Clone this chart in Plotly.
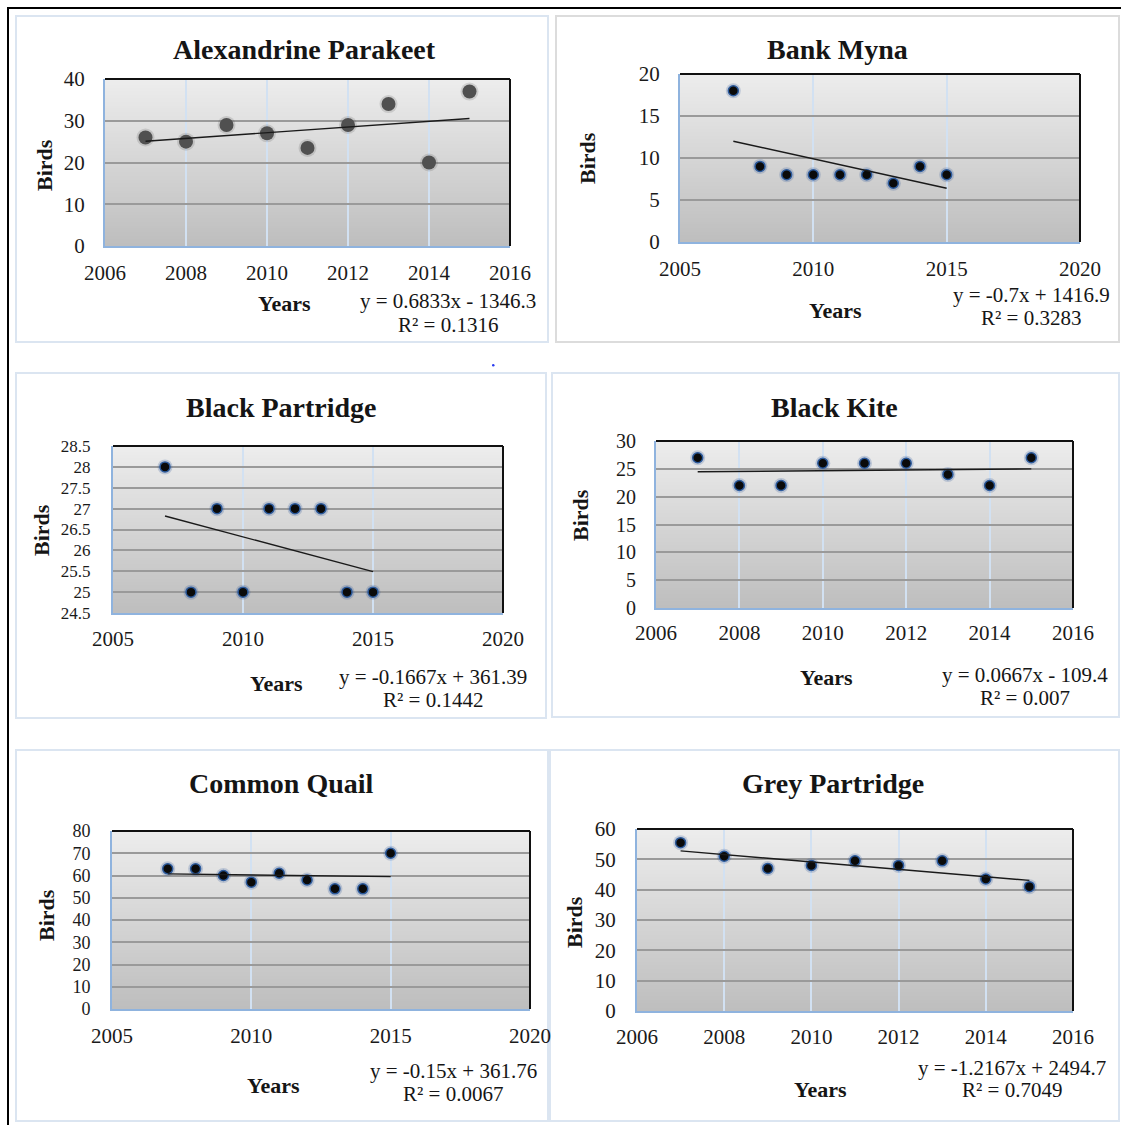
import base64, zlib, struct
import plotly.graph_objects as go

# ---------------- data ----------------
years = [2007, 2008, 2009, 2010, 2011, 2012, 2013, 2014, 2015]
species = ["Alexandrine Parakeet", "Bank Myna", "Black Partridge",
           "Black Kite", "Common Quail", "Grey Partridge"]
alexandrine_parakeet = [26, 25, 29, 27, 23.5, 29, 34, 20, 37]
bank_myna = [18, 9, 8, 8, 8, 8, 7, 9, 8]
black_partridge = [28, 25, 27, 25, 27, 27, 27, 25, 25]
black_kite = [27, 22, 22, 26, 26, 26, 24, 22, 27]
common_quail = [63, 63, 60, 57, 61, 58, 54, 54, 70]
grey_partridge = [55.5, 51, 47, 48, 49.5, 48, 49.5, 43.5, 41]
series = [alexandrine_parakeet, bank_myna, black_partridge,
          black_kite, common_quail, grey_partridge]
trend_slope = [0.6833, -0.7, -0.1667, 0.0667, -0.15, -1.2167]
trend_intercept = [-1346.3, 1416.9, 361.39, -109.4, 361.76, 2494.7]
r_squared = ["0.1316", "0.3283", "0.1442", "0.007", "0.0067", "0.7049"]
x_ranges = [(2006, 2016, 2), (2005, 2020, 5), (2005, 2020, 5),
            (2006, 2016, 2), (2005, 2020, 5), (2006, 2016, 2)]
y_ranges = [(0, 40, 10), (0, 20, 5), (24.5, 28.5, 0.5),
            (0, 30, 5), (0, 80, 10), (0, 60, 10)]

# ---------------- layout helpers ----------------
W, H = 1121, 1125
def PX(x): return x / W
def PY(y): return 1 - y / H

def gradient_png(top, bottom, h=128):
    rows = b''
    for i in range(h):
        v = round(top + (bottom - top) * i / (h - 1))
        rows += b'\x00' + bytes([v, v, v])
    def chunk(tag, data):
        c = struct.pack('>I', len(data)) + tag + data
        return c + struct.pack('>I', zlib.crc32(tag + data) & 0xffffffff)
    ihdr = struct.pack('>IIBBBBB', 1, h, 8, 2, 0, 0, 0)
    png = (b'\x89PNG\r\n\x1a\n' + chunk(b'IHDR', ihdr) +
           chunk(b'IDAT', zlib.compress(rows)) + chunk(b'IEND', b''))
    return 'data:image/png;base64,' + base64.b64encode(png).decode()

GRAD = gradient_png(237, 190)

# panel geometry (pixels): plot box, frame box, text positions
panels = [
    dict(plot=(105, 510, 79, 246), frame=(16, 548, 16, 342), fcol="#dbe5f1",
         title=(304, 50), birds=(44, 165), years=(284, 304), eq=(448, 301, 325),
         xts=7, yts=14, yfs=21),
    dict(plot=(680, 1080, 74, 242), frame=(556, 1119, 16, 342), fcol="#dcdcdc",
         title=(837, 50), birds=(587, 158), years=(835, 310), eq=(1031, 295, 318),
         xts=7, yts=14, yfs=21),
    dict(plot=(113, 503, 446, 613), frame=(16, 546, 373, 718), fcol="#dbe5f1",
         title=(281, 407), birds=(42, 530), years=(276, 683), eq=(433, 677, 700),
         xts=6, yts=17, yfs=17),
    dict(plot=(656, 1073, 441, 608), frame=(552, 1119, 373, 717), fcol="#dbe5f1",
         title=(834, 407), birds=(580, 515), years=(826, 677), eq=(1025, 675, 698),
         xts=5, yts=14, yfs=20),
    dict(plot=(112, 530, 831, 1009), frame=(16, 548, 750, 1121), fcol="#dbe5f1",
         title=(281, 783), birds=(46, 915), years=(273, 1085), eq=(453, 1071, 1094),
         xts=7, yts=16, yfs=18),
    dict(plot=(637, 1073, 829, 1011), frame=(550, 1119, 750, 1121), fcol="#dbe5f1",
         title=(833, 783), birds=(574, 922), years=(820, 1089), eq=(1012, 1068, 1090),
         xts=6, yts=15, yfs=21),
]

SERIF = "Liberation Serif"
fig = go.Figure()
shapes, annotations, images = [], [], []

def add_text(text, x, y, size, angle=0):
    annotations.append(dict(text=text, x=PX(x), y=PY(y), xref="paper", yref="paper",
                            showarrow=False, xanchor="center", yanchor="middle",
                            textangle=angle,
                            font=dict(family=SERIF, size=size, color="#151515")))

for i, p in enumerate(panels):
    n = i + 1
    xa = "x" if n == 1 else f"x{n}"
    ya = "y" if n == 1 else f"y{n}"
    x0, x1, y0, y1 = p["plot"]
    xr, yr = x_ranges[i], y_ranges[i]

    # markers
    if i == 0:
        fig.add_trace(go.Scatter(x=years, y=series[i], mode="markers", xaxis=xa, yaxis=ya,
                                 marker=dict(size=18, color="rgba(60,60,60,0.16)"),
                                 hoverinfo="skip", showlegend=False))
        fig.add_trace(go.Scatter(x=years, y=series[i], mode="markers", xaxis=xa, yaxis=ya,
                                 marker=dict(size=14, color="#505050",
                                             line=dict(width=0)),
                                 showlegend=False, name=species[i]))
    else:
        fig.add_trace(go.Scatter(x=years, y=series[i], mode="markers", xaxis=xa, yaxis=ya,
                                 marker=dict(size=15, color="rgba(40,80,150,0.22)"),
                                 hoverinfo="skip", showlegend=False))
        fig.add_trace(go.Scatter(x=years, y=series[i], mode="markers", xaxis=xa, yaxis=ya,
                                 marker=dict(size=10, color="#0a0a0a",
                                             line=dict(width=1.5, color="#2c5a9c")),
                                 showlegend=False, name=species[i]))
    # trend line
    tx = [years[0], years[-1]]
    ty = [trend_slope[i] * v + trend_intercept[i] for v in tx]
    fig.add_trace(go.Scatter(x=tx, y=ty, mode="lines", xaxis=xa, yaxis=ya,
                             line=dict(color="#1a1a1a", width=1.4),
                             showlegend=False, hoverinfo="skip"))

    fig.update_layout(**{
        ("xaxis" if n == 1 else f"xaxis{n}"): dict(
            domain=[PX(x0), PX(x1)], anchor=ya, range=[xr[0], xr[1]], dtick=xr[2],
            tick0=xr[0], showgrid=True, gridcolor="#d2e1f2", gridwidth=1.5,
            showline=True, linecolor="#8fb3de", linewidth=2, zeroline=False,
            automargin=False, ticks="",
            tickfont=dict(family=SERIF, size=21, color="#1a1a1a"),
            ticklabelstandoff=p["xts"], fixedrange=True),
        ("yaxis" if n == 1 else f"yaxis{n}"): dict(
            domain=[PY(y1), PY(y0)], anchor=xa, range=[yr[0], yr[1]], dtick=yr[2],
            tick0=yr[0], showgrid=True, gridcolor="#9a9a9a", gridwidth=1.5,
            showline=True, linecolor="#8fb3de", linewidth=2, zeroline=False,
            automargin=False, ticks="",
            tickfont=dict(family=SERIF, size=p["yfs"], color="#1a1a1a"),
            ticklabelstandoff=p["yts"], fixedrange=True),
    })

    # gradient background of plot area
    images.append(dict(source=GRAD, xref=f"{xa} domain", yref=f"{ya} domain",
                       x=0, y=1, sizex=1, sizey=1, sizing="stretch",
                       xanchor="left", yanchor="top", layer="below"))
    # black top & right borders
    shapes.append(dict(type="line", xref=f"{xa} domain", yref=f"{ya} domain",
                       x0=0, x1=1, y0=1, y1=1, line=dict(color="#111", width=2)))
    shapes.append(dict(type="line", xref=f"{xa} domain", yref=f"{ya} domain",
                       x0=1, x1=1, y0=0, y1=1, line=dict(color="#111", width=2)))
    # panel frame
    fx0, fx1, fy0, fy1 = p["frame"]
    shapes.append(dict(type="rect", xref="paper", yref="paper",
                       x0=PX(fx0), x1=PX(fx1), y0=PY(fy1), y1=PY(fy0),
                       line=dict(color=p["fcol"], width=2), layer="below"))

    # texts
    add_text(f"<b>{species[i]}</b>", *p["title"], 28)
    add_text("<b>Birds</b>", *p["birds"], 22, angle=-90)
    add_text("<b>Years</b>", *p["years"], 22)
    b = trend_intercept[i]
    ex, ey1, ey2 = p["eq"]
    add_text(f"y = {trend_slope[i]:g}x {'+' if b >= 0 else '-'} {abs(b):g}", ex, ey1, 21)
    add_text(f"R² = {r_squared[i]}", ex, ey2, 21)

# outer black frame (top and left) and small stray dot
shapes.append(dict(type="line", xref="paper", yref="paper", x0=PX(7), x1=PX(1121),
                   y0=PY(8), y1=PY(8), line=dict(color="#000", width=2)))
shapes.append(dict(type="line", xref="paper", yref="paper", x0=PX(8), x1=PX(8),
                   y0=PY(7), y1=PY(1125), line=dict(color="#000", width=2)))
shapes.append(dict(type="circle", xref="paper", yref="paper", x0=PX(492), x1=PX(494.5),
                   y0=PY(366.5), y1=PY(364), fillcolor="#2a3cf0", line=dict(width=0)))

fig.update_layout(
    width=W, height=H, autosize=False,
    margin=dict(l=0, r=0, t=0, b=0, autoexpand=False),
    paper_bgcolor="white", plot_bgcolor="rgba(0,0,0,0)",
    shapes=shapes, annotations=annotations, images=images,
    showlegend=False, font=dict(family=SERIF),
)
fig.write_html("out.html", config={"displayModeBar": False},
               post_script="document.body.style.margin='0px';document.body.style.overflow='hidden';")
